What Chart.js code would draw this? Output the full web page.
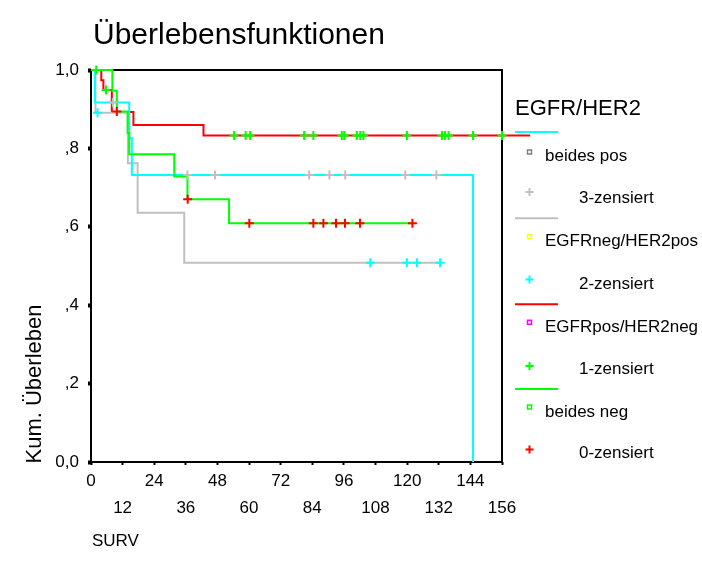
<!DOCTYPE html>
<html><head><meta charset="utf-8">
<script src="https://cdn.jsdelivr.net/npm/chart.js@4/dist/chart.umd.min.js"></script>
<style>html,body{margin:0;padding:0;background:#fff;}</style>
</head><body>
<canvas id="c" width="702" height="572"></canvas>
<script>
const titleText = 'Überlebensfunktionen';
const yAxisTitle = 'Kum. Überleben';
const xAxisTitle = 'SURV';
const legendTitle = 'EGFR/HER2';
const groupNames = ['beides pos', 'EGFRneg/HER2pos', 'EGFRpos/HER2neg', 'beides neg'];
const censorNames = ['3-zensiert', '2-zensiert', '1-zensiert', '0-zensiert'];
const lineColors = ['#00FFFF', '#C0C0C0', '#FF0000', '#00FF00'];
const censorColors = ['#C0C0C0', '#00FFFF', '#00FF00', '#FF0000'];
const squareColors = ['#808080', '#FFFF00', '#FF00FF', '#00FF00'];

const xTickValues = [0, 12, 24, 36, 48, 60, 72, 84, 96, 108, 120, 132, 144, 156];
const yTickValues = [0, 0.2, 0.4, 0.6, 0.8, 1.0];
const yTickLabels = ['0,0', ',2', ',4', ',6', ',8', '1,0'];

// beides pos (cyan line, grey censor marks)
const beidesPosTimes = [0, 1.5, 14.5, 15.5, 145.0];
const beidesPosSurv = [1.0, 0.917, 0.826, 0.732, 0.0];
const beidesPosCensored = [8.3, 36.6, 47.1, 82.8, 90.5, 96.5, 119.3, 131.1];
const beidesPosEnd = 145.0;

// EGFRneg/HER2pos (grey line, cyan censor marks)
const negPosTimes = [0, 1.7, 14.0, 17.7, 35.4];
const negPosSurv = [1.0, 0.891, 0.762, 0.636, 0.508];
const negPosCensored = [2.5, 106.0, 119.9, 123.7, 132.5];
const negPosEnd = 132.5;

// EGFRpos/HER2neg (red line, green censor marks)
const posNegTimes = [0, 3.9, 4.7, 7.9, 16.1, 42.7];
const posNegSurv = [1.0, 0.974, 0.949, 0.893, 0.860, 0.833];
const posNegCensored = [2.0, 5.7, 54.3, 58.7, 60.4, 80.9, 84.4, 95.2, 96.1, 100.9, 102.2, 103.4, 119.9, 133.2, 134.4, 135.7, 145.0, 156.0];
const posNegEnd = 166.7;

// beides neg (green line, red censor marks)
const beidesNegTimes = [0, 8.1, 9.8, 13.9, 14.5, 31.6, 36.6, 52.4];
const beidesNegSurv = [1.0, 0.947, 0.894, 0.839, 0.785, 0.728, 0.670, 0.609];
const beidesNegCensored = [9.8, 36.7, 60.1, 84.4, 88.2, 93.0, 96.4, 102.1, 122.0];
const beidesNegEnd = 122.0;

const FONT = "'Liberation Sans', Arial, sans-serif";

function curve(times, surv, end) {
  const pts = times.map((t, i) => ({x: t, y: surv[i]}));
  if (end > times[times.length - 1]) pts.push({x: end, y: surv[surv.length - 1]});
  return pts;
}
function censorPts(times, surv, cens) {
  return cens.map(t => {
    let k = 0;
    for (let i = 0; i < times.length; i++) if (times[i] <= t) k = i;
    return {x: t, y: surv[k]};
  });
}
function lineDs(data, color) {
  return {data, showLine: true, stepped: true, borderColor: color, borderWidth: 2,
    pointRadius: 0, fill: false, clip: false};
}
function censDs(data, color) {
  return {data, showLine: false, pointStyle: 'cross', pointRadius: 4.5, pointBorderWidth: 2,
    borderColor: color, backgroundColor: color, clip: false};
}

const datasets = [
  censDs(censorPts(beidesNegTimes, beidesNegSurv, beidesNegCensored), censorColors[3]),
  censDs(censorPts(posNegTimes, posNegSurv, posNegCensored), censorColors[2]),
  censDs(censorPts(negPosTimes, negPosSurv, negPosCensored), censorColors[1]),
  censDs(censorPts(beidesPosTimes, beidesPosSurv, beidesPosCensored), censorColors[0]),
  lineDs(curve(beidesNegTimes, beidesNegSurv, beidesNegEnd), lineColors[3]),
  lineDs(curve(beidesPosTimes, beidesPosSurv, beidesPosEnd), lineColors[0]),
  lineDs(curve(negPosTimes, negPosSurv, negPosEnd), lineColors[1]),
  lineDs(curve(posNegTimes, posNegSurv, posNegEnd), lineColors[2])
];

function drawCross(ctx, x, y, r, color) {
  ctx.strokeStyle = color; ctx.lineWidth = 2;
  ctx.beginPath();
  ctx.moveTo(x - r, y); ctx.lineTo(x + r, y);
  ctx.moveTo(x, y - r); ctx.lineTo(x, y + r);
  ctx.stroke();
}

const frame = {
  id: 'frame',
  beforeDatasetsDraw(chart) {
    const ctx = chart.ctx, a = chart.chartArea;
    ctx.save();
    ctx.strokeStyle = '#000'; ctx.lineWidth = 2;
    ctx.strokeRect(a.left, a.top, a.right - a.left, a.bottom - a.top);
    ctx.restore();
  },
  afterDraw(chart) {
    const ctx = chart.ctx;
    ctx.save();
    ctx.fillStyle = '#000';
    ctx.textBaseline = 'alphabetic';
    // title
    ctx.font = '30px ' + FONT;
    ctx.textAlign = 'left';
    ctx.fillText(titleText, 93, 44);
    // x title
    ctx.font = '17px ' + FONT;
    ctx.fillText(xAxisTitle, 92, 546);
    // y title
    ctx.save();
    ctx.translate(41, 384);
    ctx.rotate(-Math.PI / 2);
    ctx.font = '22px ' + FONT;
    ctx.textAlign = 'center';
    ctx.fillText(yAxisTitle, 0, 0);
    ctx.restore();
    // legend
    ctx.font = '22px ' + FONT;
    ctx.textAlign = 'left';
    ctx.fillText(legendTitle, 515, 115);
    const lineY = [132, 218.3, 304.3, 389];
    const sqY = [152, 236.5, 322.3, 407];
    const nameY = [156, 241, 327, 412];
    const crossY = [192, 279.5, 366, 449.5];
    const censY = [198, 284, 369, 453];
    ctx.font = '17px ' + FONT;
    ctx.textBaseline = 'middle';
    for (let g = 0; g < 4; g++) {
      ctx.strokeStyle = lineColors[g]; ctx.lineWidth = 2;
      ctx.beginPath(); ctx.moveTo(515, lineY[g]); ctx.lineTo(558, lineY[g]); ctx.stroke();
      ctx.strokeStyle = squareColors[g]; ctx.lineWidth = 1.5;
      ctx.strokeRect(527.5, sqY[g] - 2, 4, 4);
      ctx.fillStyle = '#000';
      ctx.fillText(groupNames[g], 545, nameY[g]);
      drawCross(ctx, 529.5, crossY[g], 4, censorColors[g]);
      ctx.fillStyle = '#000';
      ctx.fillText(censorNames[g], 579, censY[g]);
    }
    ctx.restore();
  }
};

new Chart(document.getElementById('c'), {
  type: 'scatter',
  data: {datasets},
  options: {
    responsive: false,
    animation: false,
    devicePixelRatio: 1,
    layout: {padding: {left: 0, top: 70, right: 200, bottom: 0}},
    plugins: {legend: {display: false}, title: {display: false}, tooltip: {enabled: false}},
    scales: {
      x: {
        type: 'linear', min: 0, max: 156,
        afterFit(s) { s.height = 110; },
        afterBuildTicks(s) { s.ticks = xTickValues.map(v => ({value: v})); },
        ticks: {
          autoSkip: false, maxRotation: 0, minRotation: 0, color: '#000', padding: 3,
          font: {family: FONT, size: 17, lineHeight: 1.59},
          callback: (v, i) => (i % 2 === 0 ? [String(xTickValues[i]), ''] : ['', String(xTickValues[i])])
        },
        grid: {display: true, drawOnChartArea: false, drawTicks: true, tickLength: 3, tickWidth: 2, tickColor: '#000', color: '#000'},
        border: {display: false}
      },
      y: {
        type: 'linear', min: 0, max: 1,
        afterFit(s) { s.width = 91; },
        afterBuildTicks(s) { s.ticks = yTickValues.map(v => ({value: v})); },
        ticks: {
          color: '#000', padding: 9,
          font: {family: FONT, size: 17},
          callback: (v, i) => yTickLabels[i]
        },
        grid: {display: true, drawOnChartArea: false, drawTicks: true, tickLength: 3, tickWidth: 4, tickColor: '#000', color: '#000'},
        border: {display: false}
      }
    }
  },
  plugins: [frame]
});
</script>
</body></html>
